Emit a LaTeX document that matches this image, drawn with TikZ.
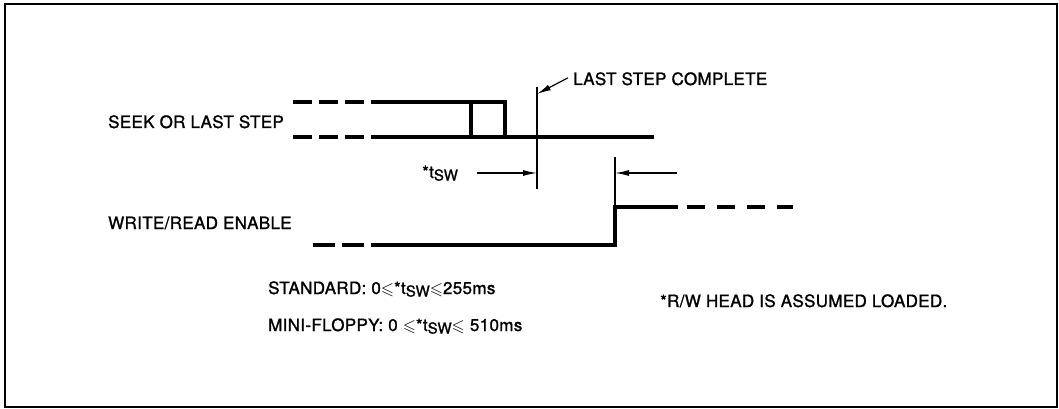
\documentclass[tikz,border=0pt]{standalone}
\usepackage{amssymb}
\usepackage{fontspec}
\setmainfont{TeX Gyre Heros}
\newfontfamily\diagfont{TeX Gyre Heros}[FakeBold=1.3,LetterSpace=2]
\usetikzlibrary{arrows.meta}

\newcommand{\tsub}{t\raisebox{-2.5pt}{\fontsize{15}{15}\selectfont SW}}

\begin{document}
\begin{tikzpicture}[x=1pt,y=-1pt,
    sig/.style={line width=3.8pt},
    guide/.style={line width=1.2pt},
    pointer/.style={line width=1.2pt,-{Latex[length=14pt,width=6pt]}},
    txt/.style={inner sep=0pt,anchor=base west,font=\diagfont\fontsize{17}{20}\selectfont}]
        \useasboundingbox (0,0) rectangle (1059,409);
        \draw[line width=2pt] (5,4) rectangle (1057,407);
        % seek or last step
        \draw[sig,dash pattern=on 19pt off 7pt] (293,102) -- (364,102);
        \draw[sig,dash pattern=on 19pt off 7pt] (293,137) -- (364,137);
        \draw[sig] (371,102) -- (505,102) -- (505,137);
        \draw[sig] (471,102) -- (471,137);
        \draw[sig] (371,137) -- (654,137);
        % write/read enable
        \draw[sig,dash pattern=on 22pt off 7pt] (313,245) -- (364,245);
        \draw[sig] (371,245) -- (615,245) -- (615,207) -- (678,207);
        \draw[sig,dash pattern=on 18pt off 12pt] (687,207) -- (793,207);
        % markers
        \coordinate (stepTop) at (537,94);
        \coordinate (stepMid) at (537,173);
        \coordinate (enaMid) at (615,173);
        \coordinate (stepFrom) at (477,173);
        \coordinate (enaFrom) at (677,173);
        \draw[guide] (537,87) -- (537,189);
        \draw[guide] (615,157) -- (615,207);
        % labels
        \node[txt] (seek) at (108,128) {SEEK OR LAST STEP};
        \node[txt] (wrena) at (108,229) {WRITE/READ ENABLE};
        \node[txt] (complete) at (573,85) {LAST STEP COMPLETE};
        \node[txt] (tsw) at (422,178) {*\tsub};
        \node[txt] (standard) at (268,294) {STANDARD: 0$\leqslant$*\tsub$\leqslant$255ms};
        \node[txt] (mini) at (268,331) {MINI-FLOPPY: 0 $\leqslant$*\tsub$\leqslant$ 510ms};
        \node[txt] (rwhead) at (660,307) {*R/W HEAD IS ASSUMED LOADED.};
        % arrows
        \draw[pointer] ([xshift=-5pt,yshift=1pt]complete.west) -- (stepTop);
        \draw[pointer] (stepFrom) -- (stepMid);
        \draw[pointer] (enaFrom) -- (enaMid);
    \end{tikzpicture}
\end{document}
